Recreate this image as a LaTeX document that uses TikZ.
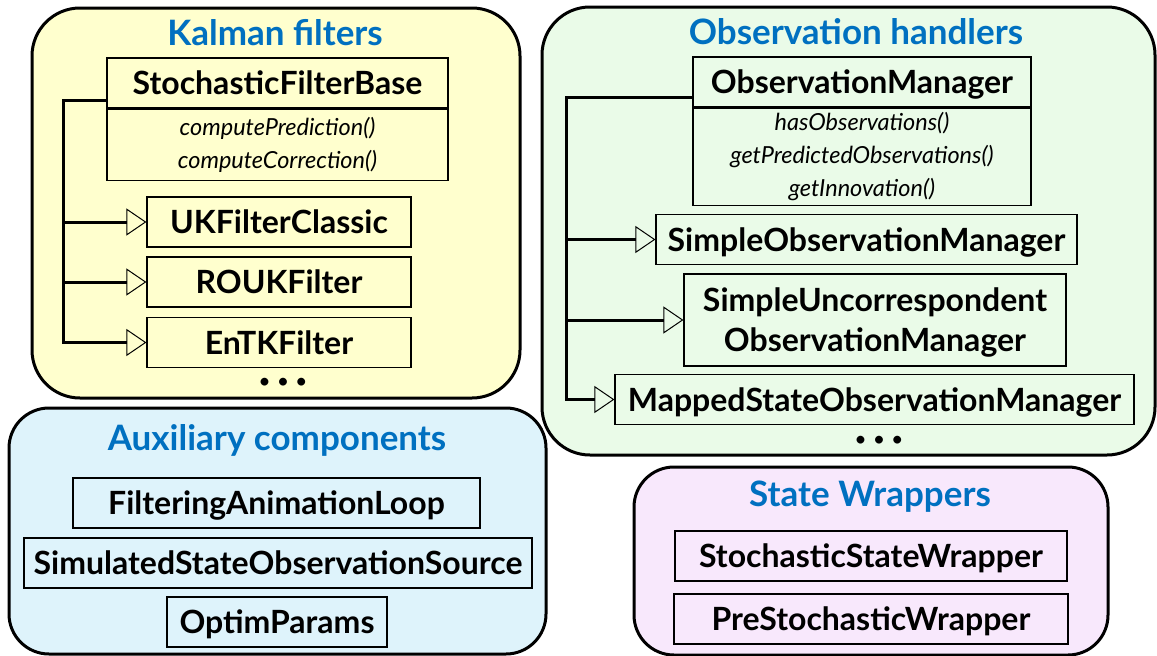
\documentclass[tikz,border=0pt]{standalone}
\usepackage{fontspec}
\setmainfont{Lato}
\usetikzlibrary{arrows.meta,positioning}
\definecolor{titleblue}{RGB}{0,112,192}
\definecolor{kalfill}{RGB}{255,255,206}
\definecolor{obsfill}{RGB}{234,251,232}
\definecolor{auxfill}{RGB}{222,243,251}
\definecolor{wrapfill}{RGB}{248,232,252}
\tikzset{
	group/.style={draw, line width=3pt, rounded corners=48pt},
	grouptitle/.style={text=titleblue, inner sep=0pt, font=\fontsize{35}{40}\selectfont\bfseries},
	cls/.style={draw, line width=1.2pt, inner sep=0pt, text depth=0pt, minimum height=50pt, align=center, font=\fontsize{32}{40}\selectfont\bfseries},
	methods/.style={draw, line width=1.2pt, inner sep=0pt, align=center, font=\fontsize{23.5}{33}\selectfont\itshape},
	tree/.style={line width=3pt},
	inherit/.style={line width=3pt, -{Triangle[open,length=20pt,width=27pt,line width=1pt]}},
	etc/.style={font=\fontsize{18}{20}\selectfont\bfseries},
}
\newcommand{\moredots}{\textbullet\hspace{8pt}\textbullet\hspace{8pt}\textbullet}
\begin{document}
\begin{tikzpicture}[x=1pt,y=-1pt]
	\useasboundingbox (0,0) rectangle (1157,656);
	\node[group, fill=kalfill, minimum width=488pt, minimum height=390pt] (kalman) at (276,203) {};
	\node[group, fill=obsfill, minimum width=613pt, minimum height=448pt] (obs) at (848.5,231) {};
	\node[group, fill=auxfill, rounded corners=40pt, minimum width=537pt, minimum height=246pt] (aux) at (277.5,531) {};
	\node[group, fill=wrapfill, rounded corners=40pt, minimum width=474pt, minimum height=188pt] (wrap) at (871,561) {};

	\node[grouptitle] (kaltitle) at (275,33) {Kalman filters};
	\node[cls, minimum width=341pt] (sfb) at (277.5,83) {StochasticFilterBase};
	\node[methods, minimum width=341pt, minimum height=71pt, below=0pt of sfb] (sfbm) {computePrediction()\\computeCorrection()};
	\node[cls, minimum width=264pt] (ukf) at (279,222) {UKFilterClassic};
	\node[cls, minimum width=264pt] (rouk) at (279,282) {ROUKFilter};
	\node[cls, minimum width=264pt] (entk) at (279,342.5) {EnTKFilter};
	\node[etc] (kaldots) at (283,383) {\moredots};
	\coordinate (kaltop) at (63,100);
	\draw[inherit] (sfb.west |- kaltop) -- (kaltop) |- (entk.west);
	\foreach \c in {ukf,rouk}
		\draw[inherit] (kaltop |- \c.west) -- (\c.west);

	\node[grouptitle] (obstitle) at (856,32) {Observation handlers};
	\node[cls, minimum width=338pt] (om) at (862,82) {ObservationManager};
	\node[methods, minimum width=338pt, minimum height=97pt, below=0pt of om] (omm) {hasObservations()\\getPredictedObservations()\\getInnovation()};
	\node[cls, minimum width=421pt] (som) at (866.5,239.5) {SimpleObservationManager};
	\node[cls, minimum width=382pt, minimum height=92pt] (suom) at (875,320) {SimpleUncorrespondent\\ObservationManager};
	\node[cls, minimum width=519pt] (msom) at (874.5,399.5) {MappedStateObservationManager};
	\node[etc] (obsdots) at (879,441) {\moredots};
	\coordinate (obstop) at (566,97);
	\draw[inherit] (om.west |- obstop) -- (obstop) |- (msom.west);
	\foreach \c in {som,suom}
		\draw[inherit] (obstop |- \c.west) -- (\c.west);

	\node[grouptitle] (auxtitle) at (277,440) {Auxiliary components};
	\node[cls, minimum width=407pt] (fal) at (276.5,503) {FilteringAnimationLoop};
	\node[cls, minimum width=508pt] (ssos) at (278,563) {SimulatedStateObservationSource};
	\node[cls, minimum width=220pt] (optim) at (277,622) {OptimParams};

	\node[grouptitle] (wraptitle) at (870,497) {State Wrappers};
	\node[cls, minimum width=392pt] (ssw) at (871,556) {StochasticStateWrapper};
	\node[cls, minimum width=394pt] (psw) at (871,619) {PreStochasticWrapper};
\end{tikzpicture}
\end{document}
